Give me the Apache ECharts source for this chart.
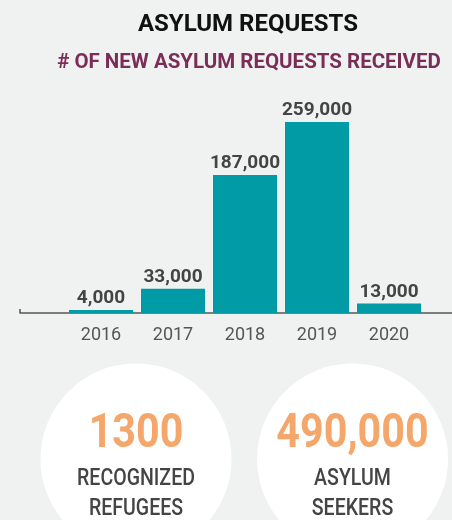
<!DOCTYPE html>
<html><head><meta charset="utf-8">
<script src="https://cdn.jsdelivr.net/npm/echarts@6/dist/echarts.min.js"></script>
<style>html,body{margin:0;padding:0;background:#f0f2f1;}#c{width:452px;height:520px;}</style>
</head><body><div id="c"></div>
<script>
const years = [2016, 2017, 2018, 2019, 2020];
const requests = [4000, 33000, 187000, 259000, 13000];
const statValues = ['1300', '490,000'];
const statLabels = [['RECOGNIZED', 'REFUGEES'], ['ASYLUM', 'SEEKERS']];

const chart = echarts.init(document.getElementById('c'));
const graphics = [];
const circleCx = [136, 352.5];
statValues.forEach((v, i) => {
  graphics.push({type: 'circle', shape: {cx: circleCx[i], cy: 459, r: 95.5}, style: {fill: '#ffffff'}, z: 1});
  graphics.push({type: 'text', x: circleCx[i], y: 435, scaleX: 0.86, z: 2,
    style: {text: v, fill: '#f4a66b', font: 'bold 48px Roboto', align: 'center', verticalAlign: 'middle'}});
  graphics.push({type: 'text', x: circleCx[i], y: 494, scaleX: 0.85, z: 2,
    style: {text: statLabels[i].join('\n'), fill: '#444', font: '500 23px Roboto', align: 'center', verticalAlign: 'middle', lineHeight: 30}});
});

chart.setOption({
  backgroundColor: '#f0f2f1',
  animation: false,
  title: [
    {text: 'ASYLUM REQUESTS', left: 243, top: 8, textAlign: 'center',
      textStyle: {fontFamily: 'Roboto', fontWeight: 'bold', fontSize: 24, color: '#111'}},
    {text: '# OF NEW ASYLUM REQUESTS RECEIVED', left: 244, top: 47, textAlign: 'center',
      textStyle: {fontFamily: 'Roboto', fontWeight: 'bold', fontSize: 20.5, color: '#7a2d56'}}
  ],
  grid: {left: 20, right: 0, top: 91.8, bottom: 207},
  xAxis: {
    type: 'value', min: 2014.875, max: 2020.875,
    axisLine: {show: true, lineStyle: {color: '#555', width: 1.5}},
    axisTick: {show: true, inside: true, length: 4, customValues: [2014.875], lineStyle: {color: '#555', width: 1.5}},
    axisLabel: {customValues: years, margin: 13, formatter: v => String(v),
      fontFamily: 'Roboto', fontSize: 18, color: '#555'},
    splitLine: {show: false}
  },
  yAxis: {type: 'value', min: 0, max: 300000, show: false},
  series: [{
    type: 'bar', barWidth: 64,
    data: years.map((y, i) => [y, requests[i]]),
    itemStyle: {color: '#019ba6'},
    label: {show: true, position: 'top', distance: 2,
      formatter: p => p.value[1].toLocaleString('en-US'),
      fontFamily: 'Roboto', fontWeight: 'bold', fontSize: 19, color: '#444'}
  }],
  graphic: graphics
});
</script></body></html>
